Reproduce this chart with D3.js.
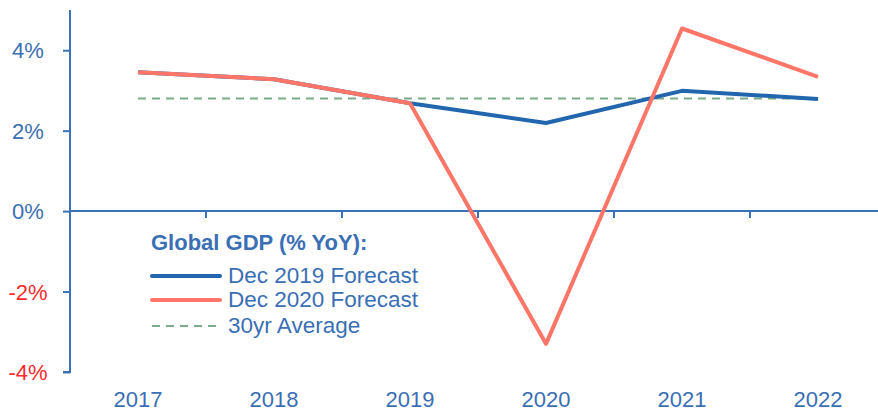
<!DOCTYPE html>
<html>
<head>
<meta charset="utf-8">
<script src="https://cdn.jsdelivr.net/npm/d3@7"></script>
<style>
  html, body { margin: 0; padding: 0; background: #fff; }
  svg { display: block; font-family: "Liberation Sans", Arial, sans-serif; }
</style>
</head>
<body>
<div id="chart"></div>
<script>
const years = ['2017', '2018', '2019', '2020', '2021', '2022'];
const dec2019 = [3.45, 3.28, 2.68, 2.19, 2.99, 2.79];
const dec2020 = [3.45, 3.28, 2.68, -3.3, 4.54, 3.34];
const avg30 = [2.8, 2.8, 2.8, 2.8, 2.8, 2.8];
const yTicks = [-4, -2, 0, 2, 4];

const series = [
  { label: 'Dec 2019 Forecast', values: dec2019, color: '#2166ae', width: 4, dash: null },
  { label: 'Dec 2020 Forecast', values: dec2020, color: '#ff7668', width: 4, dash: null },
  { label: '30yr Average', values: avg30, color: '#7bab88', width: 2, dash: '8,6' },
];

const W = 878, H = 414;
const axisColor = '#3a72b8';
const textColor = '#3a6fb5';
const font = '"Liberation Sans", Arial, sans-serif';

const svg = d3.select('#chart').append('svg').attr('width', W).attr('height', H);

const x = d3.scaleBand().domain(years).range([70, 886]);
const y = d3.scaleLinear().domain([-4, 5]).range([372, 10]);

// x axis on zero line, tick marks at band edges
const xAxis = svg.append('g').attr('transform', `translate(0,${y(0)})`);
xAxis.append('line')
  .attr('x1', 70).attr('x2', W).attr('stroke', axisColor).attr('stroke-width', 2);
xAxis.selectAll('line.tk').data(years.slice(1)).join('line').attr('class', 'tk')
  .attr('x1', d => x(d)).attr('x2', d => x(d)).attr('y1', 0).attr('y2', 7)
  .attr('stroke', axisColor).attr('stroke-width', 2);

// year labels at bottom
svg.append('g').selectAll('text').data(years).join('text')
  .attr('x', d => x(d) + x.bandwidth() / 2).attr('y', 407)
  .attr('text-anchor', 'middle').attr('fill', textColor).attr('font-size', '22px')
  .text(d => d);

// y axis
svg.append('g').attr('transform', 'translate(70,0)')
  .call(d3.axisLeft(y).tickValues(yTicks).tickSize(7).tickFormat(d => d + '%'))
  .call(g => g.select('.domain').attr('stroke', axisColor).attr('stroke-width', 2)
    .attr('d', `M0,${y(5)}V${y(-4)}H-7`))
  .call(g => g.selectAll('.tick line').attr('stroke', axisColor).attr('stroke-width', 2))
  .call(g => g.selectAll('.tick text')
    .attr('x', -42).attr('text-anchor', 'middle').attr('dy', '0.35em')
    .attr('font-size', '22px').attr('font-family', font)
    .attr('fill', d => d < 0 ? '#ff2b2b' : textColor));

// lines
const line = d3.line()
  .x((d, i) => x(years[i]) + x.bandwidth() / 2)
  .y(d => y(d));

[series[2], series[0], series[1]].forEach(s => {
  svg.append('path').datum(s.values)
    .attr('fill', 'none').attr('stroke', s.color).attr('stroke-width', s.width)
    .attr('stroke-dasharray', s.dash).attr('stroke-linejoin', 'round')
    .attr('d', line);
});

// legend
const legend = svg.append('g');
legend.append('text').attr('x', 151).attr('y', 250)
  .attr('fill', textColor).attr('font-size', '22px').attr('font-weight', 'bold')
  .text('Global GDP (% YoY):');
const rowY = [276, 300, 326];
series.forEach((s, i) => {
  legend.append('line').attr('x1', 152).attr('x2', 220).attr('y1', rowY[i]).attr('y2', rowY[i])
    .attr('stroke', s.color).attr('stroke-width', s.width).attr('stroke-dasharray', s.dash)
    .attr('stroke-linecap', s.dash ? null : 'round');
  legend.append('text').attr('x', 228).attr('y', rowY[i] + 7)
    .attr('fill', textColor).attr('font-size', '22.5px').text(s.label);
});
</script>
</body>
</html>
